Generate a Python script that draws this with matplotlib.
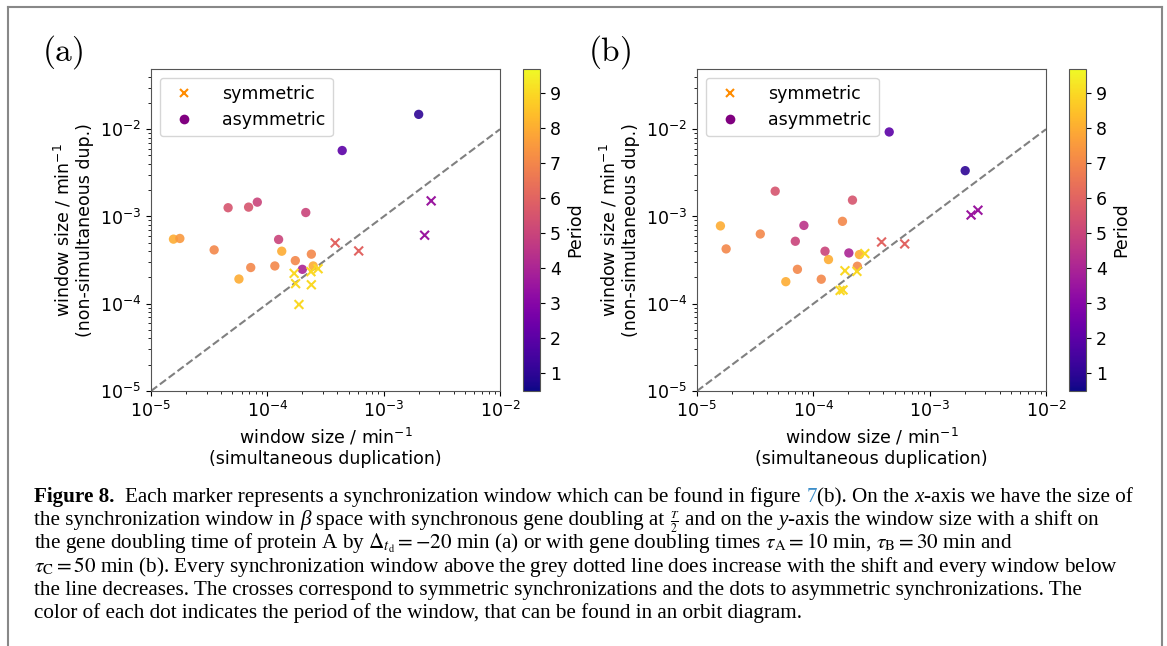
import matplotlib
matplotlib.use("Agg")
import matplotlib.pyplot as plt
from matplotlib.lines import Line2D
from matplotlib.colors import Normalize
from matplotlib.cm import ScalarMappable

# Datos (a): puntos (asimétricos) y cruces (simétricos)
a_dot_x = [2.0e-3, 4.4e-4, 4.6e-5, 6.9e-5, 8.2e-5, 2.14e-4, 1.25e-4, 1.56e-5, 1.33e-4,
           2.48e-4, 5.7e-5, 1.77e-5, 3.49e-5, 2.39e-4, 1.74e-4, 7.2e-5, 1.16e-4, 2.0e-4]
a_dot_y = [1.48e-2, 5.7e-3, 1.26e-3, 1.28e-3, 1.46e-3, 1.11e-3, 5.45e-4, 5.5e-4, 4.0e-4,
           2.71e-4, 1.92e-4, 5.6e-4, 4.14e-4, 3.7e-4, 3.12e-4, 2.6e-4, 2.71e-4, 2.48e-4]
a_dot_p = [1, 2, 5.5, 5.5, 5, 5, 5, 8, 8, 8, 8, 7.5, 7, 7, 7, 7, 7, 4]
a_cross_x = [2.56e-3, 2.25e-3, 3.83e-4, 6.1e-4, 1.70e-4, 2.37e-4, 2.73e-4, 1.75e-4, 2.39e-4, 1.87e-4]
a_cross_y = [1.51e-3, 6.1e-4, 4.98e-4, 4.03e-4, 2.23e-4, 2.33e-4, 2.52e-4, 1.70e-4, 1.65e-4, 9.8e-5]
a_cross_p = [3.5, 3.5, 6, 6, 9, 9, 9, 9, 9, 9]

# Datos de la figura (b)
b_dot_x = [4.49e-4, 2.02e-3, 4.7e-5, 2.17e-4, 1.59e-5, 2.49e-4, 1.35e-4, 5.8e-5, 1.78e-4,
           3.5e-5, 1.78e-5, 7.3e-5, 2.39e-4, 1.17e-4, 8.3e-5, 7.0e-5, 1.26e-4, 2.02e-4]
b_dot_y = [9.3e-3, 3.35e-3, 1.95e-3, 1.54e-3, 7.8e-4, 3.66e-4, 3.21e-4, 1.79e-4, 8.8e-4,
           6.3e-4, 4.25e-4, 2.48e-4, 2.69e-4, 1.91e-4, 7.9e-4, 5.2e-4, 4.0e-4, 3.82e-4]
b_dot_p = [2, 1, 5.5, 5.5, 8, 8, 8, 8, 7, 7, 7, 7, 7, 7, 4.5, 5, 5, 4]
b_cross_x = [2.6e-3, 2.27e-3, 3.86e-4, 6.1e-4, 2.77e-4, 1.87e-4, 2.37e-4, 1.70e-4, 1.80e-4]
b_cross_y = [1.18e-3, 1.04e-3, 5.1e-4, 4.85e-4, 3.76e-4, 2.39e-4, 2.35e-4, 1.42e-4, 1.44e-4]
b_cross_p = [3.5, 3.5, 6, 6, 9, 9, 9, 9, 9]

periodo_min, periodo_max = 0.47, 9.7
cbar_ticks = [1, 2, 3, 4, 5, 6, 7, 8, 9]

fig = plt.figure(figsize=(11.67, 6.46), dpi=100)
W, H = 1167, 646
norm = Normalize(vmin=periodo_min, vmax=periodo_max)
cmap = plt.get_cmap("plasma")


def px(x0, y0, x1, y1):
    # convierte caja en píxeles a coordenadas de figura
    return [x0 / W, 1 - y1 / H, (x1 - x0) / W, (y1 - y0) / H]


def panel(left, dx, dy, dp, cx, cy, cp, letra):
    ax = fig.add_axes(px(left, 69, left + 349, 391))
    cax = fig.add_axes(px(left + 372, 69, left + 389, 391))
    ax.plot([1e-5, 1e-2], [1e-5, 1e-2], ls="--", color="gray", lw=1.5, zorder=1)
    ax.scatter(cx, cy, c=cp, cmap=cmap, norm=norm, marker="x", s=40, lw=1.5, zorder=3)
    ax.scatter(dx, dy, c=dp, cmap=cmap, norm=norm, marker="o", s=45, alpha=0.9,
               edgecolors="none", zorder=2)
    ax.set_xscale("log")
    ax.set_yscale("log")
    ax.set_xlim(1e-5, 1e-2)
    ax.set_ylim(1e-5, 0.049)
    ax.set_xlabel("window size / min$^{-1}$\n(simultaneous duplication)", fontsize=12.5)
    ax.set_ylabel("window size / min$^{-1}$\n(non-simultaneous dup.)", fontsize=12.5)
    ax.tick_params(labelsize=12.5)
    for s in ax.spines.values():
        s.set_color("#555555")
    handles = [Line2D([], [], ls="none", marker="x", color="darkorange", ms=6, mew=1.5),
               Line2D([], [], ls="none", marker="o", color="purple", ms=7, mec="none")]
    ax.legend(handles, ["symmetric", "asymmetric"], loc="upper left", fontsize=12.5,
              handletextpad=1.2, borderaxespad=0.5)
    cb = fig.colorbar(ScalarMappable(norm=norm, cmap=cmap), cax=cax, ticks=cbar_ticks)
    cb.set_label("Period", fontsize=12.5)
    cb.ax.tick_params(labelsize=12.5)
    cb.outline.set_edgecolor("#555555")
    fig.text((left - 109) / W, 1 - 52 / H, r"$\mathrm{(%s)}$" % letra,
             math_fontfamily="cm", fontsize=24, va="center")
    return ax


panel(151, a_dot_x, a_dot_y, a_dot_p, a_cross_x, a_cross_y, a_cross_p, "a")
panel(697, b_dot_x, b_dot_y, b_dot_p, b_cross_x, b_cross_y, b_cross_p, "b")

# marco gris alrededor de la figura
for xs, ys in [([8, 1162], [7, 7]), ([8, 8], [7, 646]), ([1162, 1162], [7, 646])]:
    fig.add_artist(Line2D([x / W for x in xs], [1 - y / H for y in ys],
                          color="#888888", lw=1.5))

# leyenda de la figura (texto del artículo)
cap_kw = dict(family="Liberation Serif", fontsize=15.2, math_fontfamily="stix", va="baseline")
renderer = fig.canvas.get_renderer()


def ancho(t):
    return t.get_window_extent(renderer).width


def linea(piezas, y):
    x = 34
    for texto, estilo in piezas:
        if texto == " ":
            x += 5.5
            continue
        kw = dict(cap_kw)
        kw.update(estilo)
        t = fig.text(x / W, 1 - y / H, texto, **kw)
        x += ancho(t)


IT = {"style": "italic"}
lineas = [
    [("Figure 8.", {"weight": "bold"}), (" ", {}), (" ", {}),
     ("Each marker represents a synchronization window which can be found in figure", {}),
     (" ", {}), ("7", {"color": "#3d8ec9"}),
     ("(b). On the", {}), (" ", {}), ("x", IT), ("-axis we have the size of", {})],
    [(r"the synchronization window in", {}), (" ", {}), ("β", IT),
     (" ", {}), ("space with synchronous gene doubling at", {}), (" ", {}),
     (r"$\frac{T}{2}$", {"fontsize": 12}), (" ", {}), ("and on the", {}), (" ", {}),
     ("y", IT), ("-axis the window size with a shift on", {})],
    [(r"the gene doubling time of protein A by $\Delta_{t_\mathrm{d}} = -20$ min (a) or with "
      r"gene doubling times $\tau_\mathrm{A} = 10$ min, $\tau_\mathrm{B} = 30$ min and", {})],
    [(r"$\tau_\mathrm{C} = 50$ min (b). Every synchronization window above the grey dotted "
      r"line does increase with the shift and every window below", {})],
    [("the line decreases. The crosses correspond to symmetric synchronizations and the "
      "dots to asymmetric synchronizations. The", {})],
    [("color of each dot indicates the period of the window, that can be found in an "
      "orbit diagram.", {})],
]
for i, piezas in enumerate(lineas):
    linea(piezas, 502 + i * 23.2)

fig.savefig("out.png", dpi=100)
